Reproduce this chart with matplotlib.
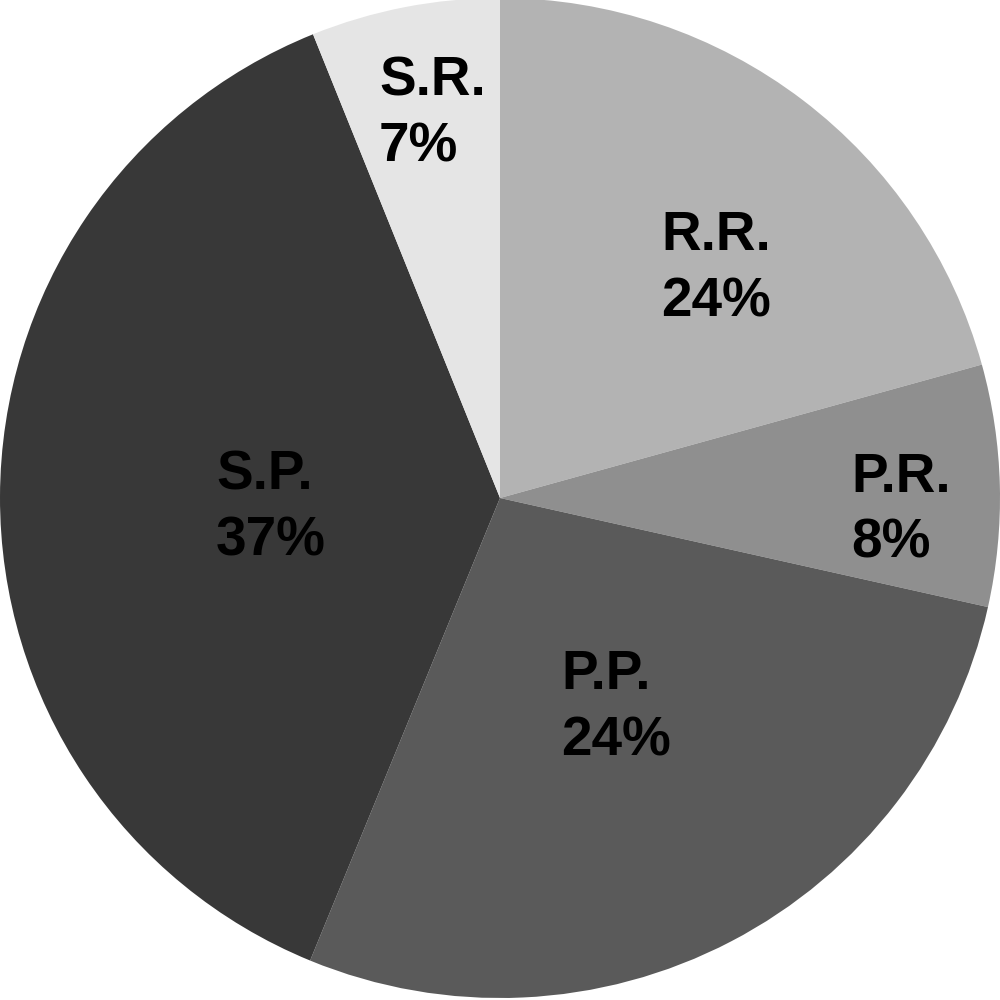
import matplotlib
matplotlib.use("Agg")
import matplotlib.pyplot as plt

# slices clockwise from 12 o'clock
names = ["R.R.", "P.R.", "P.P.", "S.P.", "S.R."]
shares = [20.7, 7.8, 27.7, 37.7, 6.1]          # slice sizes as drawn
pct_text = ["24%", "8%", "24%", "37%", "7%"]  # printed labels
colors = ["#b3b3b3", "#8f8f8f", "#5a5a5a", "#383838", "#e5e5e5"]

# left edge / first baseline of each label, in pixels from top-left
label_pos = [(661, 250), (851, 492), (561, 689), (216, 490), (379, 96)]
line_gap = 66

fig = plt.figure(figsize=(10, 10), dpi=100)
ax = fig.add_axes([0, 0, 1, 1])
ax.pie(shares, colors=colors, startangle=90, counterclock=False,
       radius=1.0, center=(0, 0.004),
       wedgeprops=dict(linewidth=0))
ax.set_xlim(-1, 1)
ax.set_ylim(-1, 1)
ax.set_aspect("equal")
ax.axis("off")

for name, pct, (px, py) in zip(names, pct_text, label_pos):
    for i, s in enumerate([name, pct]):
        fig.text(px / 1000, 1 - (py + i * line_gap) / 1000, s,
                 ha="left", va="baseline", fontsize=39.5,
                 fontweight="bold", family="Liberation Sans", color="black")

fig.savefig("out.png", dpi=100)
plt.close()
